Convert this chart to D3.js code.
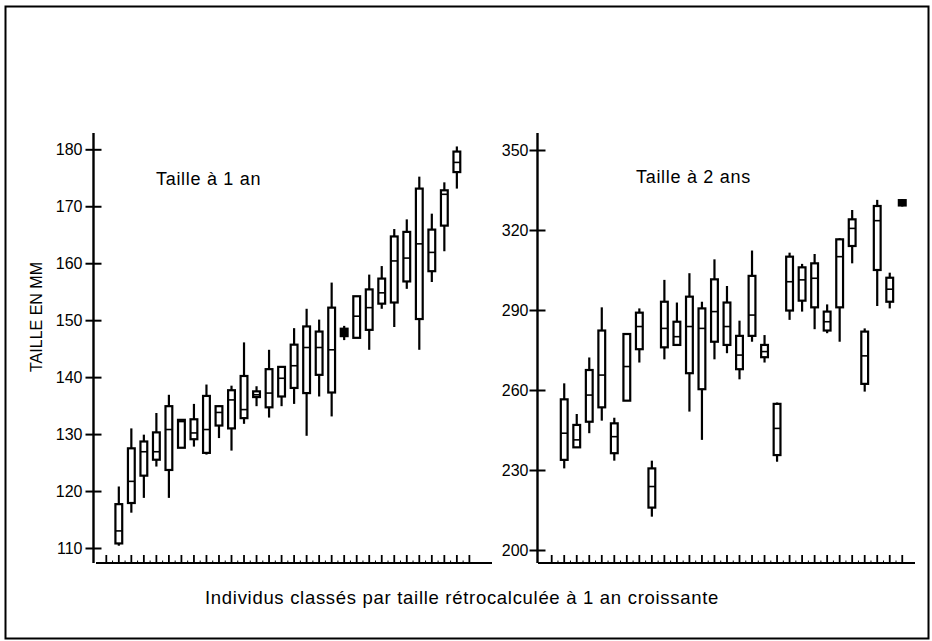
<!DOCTYPE html>
<html>
<head>
<meta charset="utf-8">
<script src="https://cdn.jsdelivr.net/npm/d3@7"></script>
<style>
  body { margin: 0; background: #fff; }
  svg { display: block; }
</style>
</head>
<body>
<div id="chart"></div>
<script>
// DATA : [moustache basse, Q1, médiane, Q3, moustache haute] par individu
const individus = d3.range(1, 29);

const taille1an = [
  [110.4, 110.8, 113.0, 117.7, 120.8],
  [116.2, 117.9, 121.7, 127.5, 131.0],
  [118.8, 122.7, 126.9, 128.7, 129.9],
  [124.3, 125.5, 126.9, 130.3, 133.7],
  [118.8, 123.7, 130.8, 134.9, 136.9],
  [127.6, 127.6, 132.2, 132.5, 132.5],
  [127.8, 129.1, 130.2, 132.6, 135.3],
  [126.4, 126.7, 130.8, 136.7, 138.7],
  [129.3, 131.5, 133.8, 134.9, 135.0],
  [127.1, 131.0, 136.0, 137.7, 138.5],
  [131.8, 132.8, 134.3, 140.2, 146.1],
  [134.9, 136.5, 136.9, 137.5, 138.4],
  [132.9, 134.7, 137.2, 141.4, 144.8],
  [134.9, 136.6, 139.8, 141.8, 141.8],
  [135.3, 138.1, 142.0, 145.7, 148.6],
  [129.7, 137.2, 145.2, 148.9, 152.0],
  [136.6, 140.4, 145.2, 148.0, 150.1],
  [133.1, 137.3, 144.8, 152.2, 156.6],
  [146.5, 147.2, 147.8, 148.5, 149.0],
  [146.9, 146.9, 150.7, 154.2, 154.2],
  [144.8, 148.3, 152.2, 155.4, 158.0],
  [152.0, 152.9, 154.8, 157.3, 159.5],
  [148.8, 153.1, 160.4, 164.7, 166.0],
  [155.5, 156.8, 160.9, 165.5, 167.7],
  [144.8, 150.2, 163.4, 173.1, 175.2],
  [156.7, 158.6, 161.9, 165.9, 168.7],
  [162.1, 166.6, 172.1, 172.8, 174.2],
  [173.1, 176.0, 177.7, 179.6, 180.5]
];

const taille2ans = [
  [230.6, 233.8, 243.8, 256.5, 262.5],
  [238.5, 238.5, 241.3, 246.9, 251.0],
  [243.8, 248.1, 258.1, 267.5, 272.2],
  [248.5, 253.5, 265.6, 282.3, 291.0],
  [233.5, 236.3, 242.5, 247.5, 249.6],
  [256.0, 256.0, 268.8, 281.0, 281.0],
  [270.3, 275.3, 283.8, 289.0, 290.6],
  [212.5, 215.9, 223.8, 230.6, 233.5],
  [271.5, 276.0, 283.1, 293.1, 301.3],
  [276.9, 276.9, 280.0, 285.6, 292.8],
  [251.9, 266.3, 283.8, 295.0, 303.8],
  [241.3, 260.3, 283.1, 290.6, 293.1],
  [271.5, 278.1, 289.4, 301.5, 309.0],
  [273.8, 276.9, 283.8, 292.8, 299.0],
  [264.0, 267.8, 273.1, 280.3, 286.0],
  [278.1, 280.3, 288.1, 302.8, 312.3],
  [270.3, 272.3, 274.4, 276.9, 280.6],
  [233.1, 235.6, 245.6, 254.8, 255.3],
  [286.3, 289.8, 300.6, 310.0, 311.5],
  [289.4, 293.5, 301.3, 306.0, 307.3],
  [282.8, 291.0, 301.9, 307.5, 311.0],
  [281.3, 282.3, 285.6, 289.4, 292.1],
  [278.1, 291.0, 310.0, 316.5, 316.9],
  [307.5, 314.0, 320.6, 324.0, 327.5],
  [259.4, 262.3, 272.8, 281.9, 283.1],
  [291.5, 305.0, 323.5, 329.0, 331.3],
  [290.6, 293.1, 297.8, 302.1, 304.0],
  [328.8, 329.2, 330.3, 331.2, 331.6]
];

const ticks1an = [110, 120, 130, 140, 150, 160, 170, 180];
const ticks2ans = [200, 230, 260, 290, 320, 350];

const titre1an = "Taille à 1 an";
const titre2ans = "Taille à 2 ans";
const titreY = "TAILLE EN MM";
const titreX = "Individus classés par taille rétrocalculée à 1 an croissante";

// DRAWING SETUP
const width = 932, height = 641;
const baseY = 563, axisTop = 133;
const font = "'Liberation Sans', Arial, Helvetica, sans-serif";

const svg = d3.select("#chart").append("svg")
  .attr("width", width)
  .attr("height", height)
  .style("font-family", font);

// cadre
svg.append("rect")
  .attr("x", 5.5).attr("y", 6.5)
  .attr("width", 923).attr("height", 632)
  .attr("fill", "none")
  .attr("stroke", "#000")
  .attr("stroke-width", 2);

function drawPanel(p) {
  const x = d3.scaleLinear().domain([0, 29]).range([p.x0, p.x0 + 29 * 12.52]);
  const y = d3.scaleLinear().domain(p.yDomain).range(p.yRange);
  const g = svg.append("g");

  // axe Y
  const yAxis = g.append("g")
    .attr("transform", `translate(${p.axisX},0)`)
    .call(d3.axisLeft(y).tickValues(p.ticks).tickSize(8).tickPadding(p.pad));
  yAxis.select(".domain").remove();
  yAxis.selectAll(".tick line")
    .attr("x1", 8)
    .attr("stroke", "#000")
    .attr("stroke-width", 2);
  yAxis.selectAll(".tick text")
    .attr("font-family", font)
    .attr("font-size", 16)
    .attr("fill", "#000");
  g.append("line")
    .attr("x1", p.axisX).attr("x2", p.axisX)
    .attr("y1", axisTop).attr("y2", baseY)
    .attr("stroke", "#000").attr("stroke-width", 2.4);

  // axe X
  g.append("line")
    .attr("x1", p.baseX0).attr("x2", p.baseX1)
    .attr("y1", baseY).attr("y2", baseY)
    .attr("stroke", "#000").attr("stroke-width", 2.2);
  const xt = d3.range(0, p.nTicks);
  g.selectAll(".xtick").data(xt).enter().append("line")
    .attr("class", "xtick")
    .attr("x1", d => x(d)).attr("x2", d => x(d))
    .attr("y1", baseY).attr("y2", baseY - 8)
    .attr("stroke", "#000").attr("stroke-width", 1.8);
  g.selectAll(".xminor").data(xt.slice(0, -1)).enter().append("line")
    .attr("class", "xminor")
    .attr("x1", d => x(d + 0.5)).attr("x2", d => x(d + 0.5))
    .attr("y1", baseY).attr("y2", baseY - 2.5)
    .attr("stroke", "#000").attr("stroke-width", 1);

  // boîtes (les très petites apparaissent pleines dans l'original)
  const tiny = d => y(d[0]) - y(d[4]) < 16;
  const box = g.selectAll(".box").data(p.data).enter().append("g")
    .attr("class", "box")
    .attr("transform", (d, i) => `translate(${x(individus[i])},0)`);
  box.append("line")
    .attr("y1", d => y(d[0])).attr("y2", d => y(d[4]))
    .attr("stroke", "#000").attr("stroke-width", 2.2);
  box.append("rect")
    .attr("x", -3.4).attr("width", 6.8)
    .attr("y", d => y(d[3]))
    .attr("height", d => Math.max(0.5, y(d[1]) - y(d[3])))
    .attr("fill", d => tiny(d) ? "#000" : "#fff")
    .attr("stroke", "#000").attr("stroke-width", 2.2);
  box.filter(d => !tiny(d)).append("line")
    .attr("x1", -3.4).attr("x2", 3.4)
    .attr("y1", d => y(d[2])).attr("y2", d => y(d[2]))
    .attr("stroke", "#000").attr("stroke-width", 1.6);

  g.append("text")
    .attr("x", p.titleX).attr("y", p.titleY)
    .attr("font-size", 18)
    .attr("letter-spacing", "0.7px")
    .attr("fill", "#000")
    .text(p.title);
}

drawPanel({
  data: taille1an, ticks: ticks1an, title: titre1an,
  x0: 106.3, yDomain: [110, 180], yRange: [548, 149.3],
  axisX: 93.5, pad: 3, baseX0: 96, baseX1: 492, nTicks: 30,
  titleX: 156, titleY: 185
});

drawPanel({
  data: taille2ans, ticks: ticks2ans, title: titre2ans,
  x0: 551.7, yDomain: [200, 350], yRange: [550, 150],
  axisX: 537.5, pad: 1, baseX0: 538, baseX1: 915, nTicks: 29,
  titleX: 636, titleY: 183
});

// titres des axes
svg.append("text")
  .attr("transform", "translate(42,317) rotate(-90)")
  .attr("text-anchor", "middle")
  .attr("font-size", 16)
  .attr("fill", "#000")
  .text(titreY);

svg.append("text")
  .attr("x", 462).attr("y", 604)
  .attr("text-anchor", "middle")
  .attr("font-size", 18.5)
  .attr("letter-spacing", "0.7px")
  .attr("fill", "#000")
  .text(titreX);
</script>
</body>
</html>
